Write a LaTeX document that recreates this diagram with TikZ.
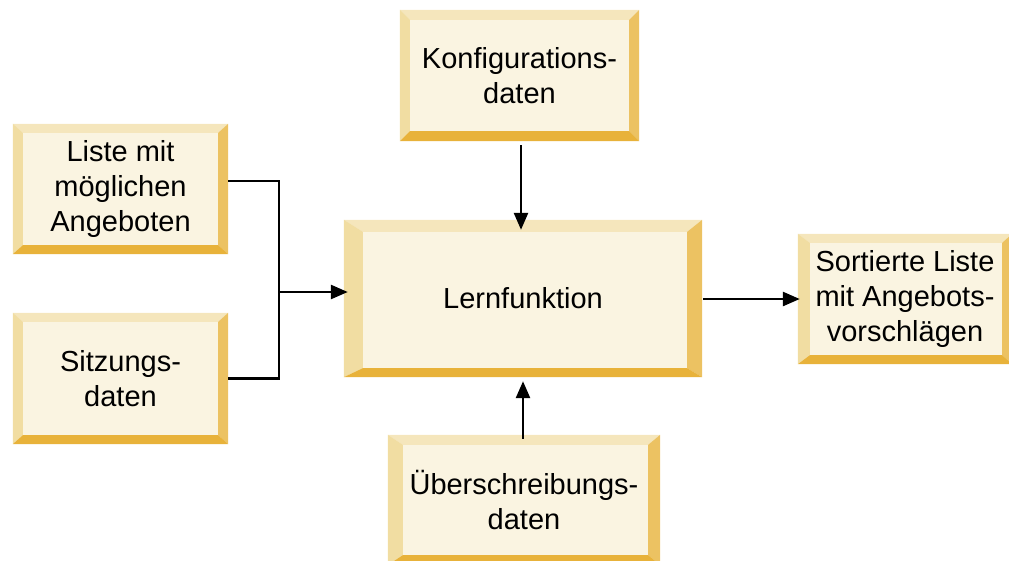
\documentclass[tikz,border=0pt]{standalone}
\usepackage{fontspec}
\setmainfont{Liberation Sans}
\usetikzlibrary{arrows.meta,calc}
\definecolor{bxin}{HTML}{FAF4E1}
\definecolor{bxtop}{HTML}{F5E6BC}
\definecolor{bxleft}{HTML}{F1DDA2}
\definecolor{bxright}{HTML}{ECC262}
\definecolor{bxbot}{HTML}{E8B23A}
\newcommand\bevelbox[5]{%
  \fill[bxtop] (#1.north west) -- (#1.north east) -- ($(#1.north east)+(-#3,#4)$) -- ($(#1.north west)+(#2,#4)$) -- cycle;
  \fill[bxleft] (#1.north west) -- ($(#1.north west)+(#2,#4)$) -- ($(#1.south west)+(#2,-#5)$) -- (#1.south west) -- cycle;
  \fill[bxright] (#1.north east) -- ($(#1.north east)+(-#3,#4)$) -- ($(#1.south east)+(-#3,-#5)$) -- (#1.south east) -- cycle;
  \fill[bxbot] (#1.south west) -- ($(#1.south west)+(#2,-#5)$) -- ($(#1.south east)+(-#3,-#5)$) -- (#1.south east) -- cycle;
}
\begin{document}
\begin{tikzpicture}[x=1pt,y=-1pt,
  box/.style={rectangle,fill=bxin,draw=none,inner sep=0pt,align=center,
    font=\fontsize{29}{35}\selectfont},
  conn/.style={line width=2.6pt,black},
  arr/.style={conn,-{Triangle[length=17pt,width=14pt]}}]
\useasboundingbox (0,0) rectangle (1009,560);
\clip (0,0) rectangle (1009,560);
\node[box,minimum width=239pt,minimum height=131pt] (konf) at (519.5,75.5) {Konfigurations-\\daten};
\bevelbox{konf}{10}{10}{10}{10}
\node[box,minimum width=215pt,minimum height=130pt] (liste) at (120.5,189) {Liste mit\\möglichen\\Angeboten};
\bevelbox{liste}{10}{10}{9}{9}
\node[box,minimum width=215pt,minimum height=131pt] (sitz) at (120.5,378.5) {Sitzungs-\\daten};
\bevelbox{sitz}{10}{10}{9}{9}
\node[box,minimum width=358pt,minimum height=157pt] (lern) at (523,298.5) {Lernfunktion};
\bevelbox{lern}{19}{15}{12}{9}
\node[box,minimum width=214pt,minimum height=130pt] (sort) at (905,299) {Sortierte Liste\\mit Angebots-\\vorschlägen};
\bevelbox{sort}{12}{10}{9}{9}
\node[box,minimum width=272pt,minimum height=130pt] (ueber) at (524,500) {Überschreibungs-\\daten};
\bevelbox{ueber}{15}{12}{10}{10}
\coordinate (j) at (279,292);
\draw[conn] ($(liste.east)+(0,-8)$) -| (j) |- (sitz.east);
\draw[arr] (j) -- ($(lern.west)+(4,-6.5)$);
\draw[arr] ($(konf.south)+(1.5,4)$) -- ($(lern.north)+(-2,10)$);
\draw[arr] ($(ueber.north)+(-1,4)$) -- ($(lern.south)+(0,4)$);
\draw[arr] ($(lern.east)+(1,0.5)$) -- ($(sort.west)+(2,0)$);
\end{tikzpicture}
\end{document}
